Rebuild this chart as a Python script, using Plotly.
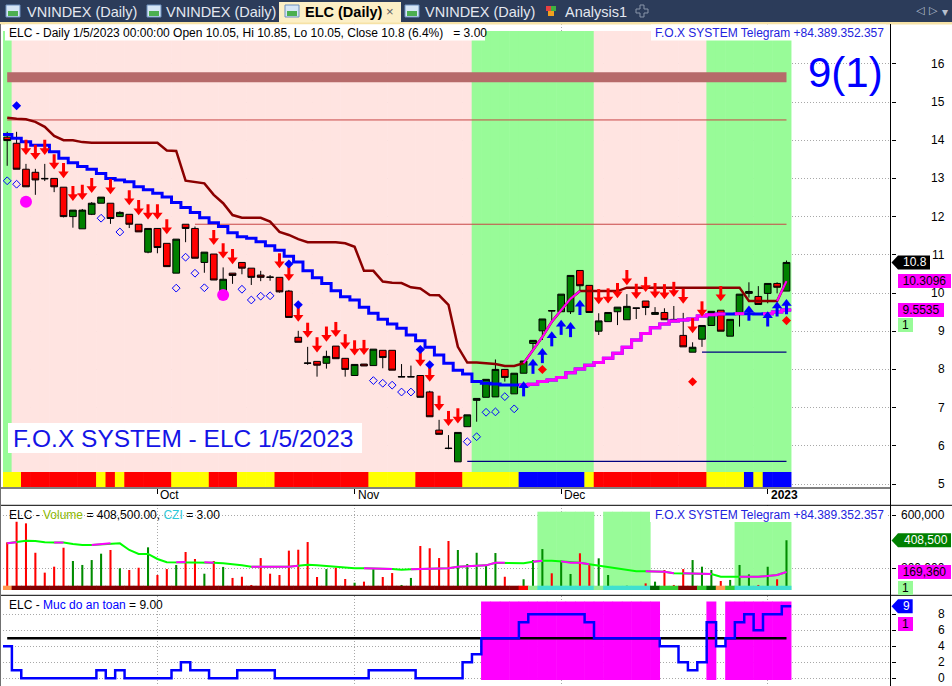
import plotly.graph_objects as go

W, H = 952, 686
FONT = "Liberation Sans"

# ------------------------------------------------------------------ data
dates = [
    "2022-09-09", "2022-09-12", "2022-09-13", "2022-09-14", "2022-09-15", "2022-09-16",
    "2022-09-19", "2022-09-20", "2022-09-21", "2022-09-22", "2022-09-23", "2022-09-26",
    "2022-09-27", "2022-09-28", "2022-09-29", "2022-09-30",
    "2022-10-03", "2022-10-04", "2022-10-05", "2022-10-06", "2022-10-07", "2022-10-10",
    "2022-10-11", "2022-10-12", "2022-10-13", "2022-10-14", "2022-10-17", "2022-10-18",
    "2022-10-19", "2022-10-20", "2022-10-21", "2022-10-24", "2022-10-25", "2022-10-26",
    "2022-10-27", "2022-10-28", "2022-10-31",
    "2022-11-01", "2022-11-02", "2022-11-03", "2022-11-04", "2022-11-07", "2022-11-08",
    "2022-11-09", "2022-11-10", "2022-11-11", "2022-11-14", "2022-11-15", "2022-11-16",
    "2022-11-17", "2022-11-18", "2022-11-21", "2022-11-22", "2022-11-23", "2022-11-24",
    "2022-11-25", "2022-11-28", "2022-11-29", "2022-11-30",
    "2022-12-01", "2022-12-02", "2022-12-05", "2022-12-06", "2022-12-07", "2022-12-08",
    "2022-12-09", "2022-12-12", "2022-12-13", "2022-12-14", "2022-12-15", "2022-12-16",
    "2022-12-19", "2022-12-20", "2022-12-21", "2022-12-22", "2022-12-23", "2022-12-26",
    "2022-12-27", "2022-12-28", "2022-12-29", "2022-12-30",
    "2023-01-03", "2023-01-04", "2023-01-05",
]
month_labels = ["Oct", "Nov", "Dec", "<b>2023</b>"]

opens = [14.08, 13.92, 13.24, 13.16, 13.00, 13.00, 12.77, 12.00, 11.68, 12.06,
         12.35, 12.35, 12.00, 12.06, 11.80, 11.07, 11.69, 11.30, 10.52, 11.80,
         11.69, 10.80, 11.02, 9.99, 10.52, 10.80, 10.65, 10.47, 10.42, 10.41,
         10.05, 8.84, 8.17, 8.21, 8.16, 8.61, 8.29, 7.84, 8.14, 8.10,
         8.50, 8.50, 7.80, 7.80, 7.84, 7.41, 6.41, 5.94, 5.58, 6.50,
         7.19, 7.27, 7.28, 8.00, 7.36, 7.90, 8.68, 9.01, 9.54, 9.51,
         9.51, 10.59, 10.20, 9.00, 9.25, 9.51, 9.30, 9.61, 9.79, 9.44,
         9.49, 9.31, 8.89, 8.45, 8.79, 9.15, 9.55, 8.87, 9.49, 9.99,
         9.91, 9.99, 10.25, 10.05]
highs = [14.22, 14.22, 13.38, 13.25, 13.38, 13.00, 12.77, 12.17, 12.20, 12.38,
         12.51, 12.35, 12.14, 12.06, 11.80, 11.69, 11.69, 11.30, 11.41, 11.80,
         11.74, 11.07, 11.02, 10.67, 10.52, 10.80, 10.65, 10.58, 10.47, 10.41,
         10.08, 9.01, 8.59, 8.21, 8.49, 8.61, 8.29, 8.13, 8.14, 8.53,
         8.50, 8.50, 8.14, 8.10, 7.84, 7.44, 6.68, 6.28, 6.35, 6.81,
         7.24, 7.74, 8.26, 8.00, 7.90, 8.22, 8.76, 9.32, 9.54, 9.97,
         10.46, 10.59, 10.20, 9.47, 9.49, 9.63, 9.97, 9.61, 9.79, 9.63,
         9.60, 9.66, 9.48, 8.71, 9.15, 9.52, 9.55, 9.31, 9.97, 10.28,
         10.18, 10.25, 10.28, 10.85]
lows = [13.33, 13.24, 12.78, 12.57, 12.93, 12.64, 11.98, 11.71, 11.68, 12.04,
        12.35, 11.81, 11.99, 11.70, 11.60, 11.04, 11.04, 10.69, 10.52, 11.33,
        10.91, 10.53, 10.34, 9.86, 10.24, 10.49, 10.21, 10.31, 10.32, 10.01,
        9.36, 8.71, 8.12, 7.81, 8.02, 8.28, 7.81, 7.84, 8.09, 8.10,
        8.03, 7.98, 7.80, 7.80, 7.27, 6.76, 6.30, 5.91, 5.58, 6.50,
        6.63, 7.27, 7.28, 7.68, 7.36, 7.90, 8.49, 8.77, 9.21, 9.51,
        9.45, 10.03, 9.49, 8.90, 9.25, 9.16, 9.30, 9.32, 9.42, 9.44,
        9.30, 9.25, 8.59, 8.45, 8.59, 9.15, 9.00, 8.87, 9.12, 9.88,
        9.70, 9.73, 9.99, 10.05]
closes = [13.99, 13.24, 12.78, 12.96, 12.99, 12.78, 12.00, 12.17, 12.17, 12.35,
          12.51, 11.95, 12.11, 11.80, 11.60, 11.69, 11.19, 10.69, 11.41, 11.69,
          10.91, 11.07, 10.34, 10.36, 10.46, 10.65, 10.41, 10.41, 10.41, 10.03,
          9.36, 8.71, 8.16, 8.11, 8.34, 8.28, 8.00, 8.13, 8.09, 8.53,
          8.31, 7.98, 7.81, 7.81, 7.27, 6.76, 6.30, 5.93, 6.35, 6.81,
          7.24, 7.74, 8.00, 7.79, 7.90, 8.22, 8.76, 9.32, 9.53, 9.97,
          10.46, 10.19, 9.49, 9.27, 9.49, 9.63, 9.65, 9.60, 9.62, 9.49,
          9.30, 9.25, 8.59, 8.58, 9.15, 9.52, 9.00, 9.31, 9.97, 10.04,
          9.70, 10.25, 10.15, 10.80]
prev_close = 10.15

volume = [394000, 549000, 537000, 315000, 165000, 210000, 353000, 253000, 223000, 260000,
          308000, 336000, 198000, 185000, 202000, 356000, 147000, 192000, 223000, 321000,
          268000, 157000, 253000, 208000, 125000, 134000, 72000, 275000, 157000, 147000,
          331000, 338000, 396000, 132000, 192000, 202000, 117000, 89000, 97000, 200000,
          132000, 162000, 72000, 125000, 366000, 349000, 275000, 404000, 336000, 230000,
          315000, 217000, 313000, 134000, 60000, 115000, 260000, 343000, 160000, 255000,
          155000, 311000, 223000, 273000, 147000, 59000, 66000, 51000, 84000, 97000,
          185000, 72000, 192000, 260000, 210000, 185000, 102000, 110000, 223000, 152000,
          72000, 210000, 115000, 408500]
vol_ma = [386000, 394000, 406000, 404000, 394000, 392000, 392000, 381000, 374000, 374000,
          379000, 386000, 386000, 336000, 306000, 306000, 268000, 243000, 243000, 245000,
          243000, 243000, 240000, 235000, 230000, 220000, 210000, 210000, 210000, 210000,
          210000, 217000, 225000, 220000, 215000, 210000, 202000, 198000, 198000, 198000,
          195000, 192000, 187000, 190000, 192000, 198000, 198000, 198000, 210000, 215000,
          217000, 220000, 240000, 240000, 235000, 235000, 247000, 255000, 255000, 250000,
          240000, 240000, 228000, 217000, 205000, 192000, 185000, 175000, 175000, 175000,
          172000, 160000, 160000, 160000, 160000, 155000, 134000, 134000, 134000, 134000,
          134000, 140000, 147000, 169360]

trail_upper = [14.59, 14.56, 14.55, 14.48, 14.35, 14.11, 14.00, 14.00, 13.95, 13.93,
               13.93, 13.93, 13.93, 13.93, 13.93, 13.93, 13.93, 13.73, 13.72, 12.94,
               12.91, 12.87, 12.57, 12.35, 12.04, 11.97, 11.97, 11.97, 11.87, 11.60,
               11.52, 11.41, 11.33, 11.33, 11.33, 11.33, 11.30, 11.21, 10.58, 10.58,
               10.30, 10.27, 10.26, 10.15, 10.12, 9.95, 9.94, 9.69, 8.59, 8.18,
               8.18, 8.17, 8.14, 8.09, 8.09, 8.16, 8.50, 8.85, 9.25, 9.55,
               9.85, 10.05, 10.05, 10.05, 10.05, 10.05, 10.14, 10.14, 10.14, 10.14,
               10.14, 10.14, 10.14, 10.14, 10.14, 10.14, 10.14, 10.14, 10.14, 9.79,
               9.79, 9.79, 9.79, 10.3096]
trail_lower = [14.15, 14.05, 13.96, 13.87, 13.87, 13.70, 13.53, 13.41, 13.31, 13.24,
               13.13, 13.00, 12.96, 12.91, 12.78, 12.70, 12.61, 12.51, 12.37, 12.24,
               12.11, 11.97, 11.84, 11.74, 11.58, 11.47, 11.43, 11.34, 11.24, 11.12,
               10.96, 10.81, 10.58, 10.40, 10.25, 10.06, 9.90, 9.82, 9.63, 9.47,
               9.31, 9.19, 9.08, 8.90, 8.75, 8.58, 8.38, 8.16, 7.98, 7.88,
               7.68, 7.64, 7.62, 7.59, 7.59, 7.59, 7.61, 7.68, 7.72, 7.79,
               7.91, 8.01, 8.11, 8.18, 8.29, 8.42, 8.58, 8.77, 8.94, 9.09,
               9.19, 9.27, 9.29, 9.32, 9.40, 9.43, 9.45, 9.45, 9.46, 9.46,
               9.45, 9.46, 9.50, 9.5535]
safety = [4, 1, 0, 0, 0, 0, 0, 0, 0, 0,
          1, 0, 1, 0, 0, 0, 0, 0, 1, 2,
          1, 1, 0, 0, 0, 1, 1, 1, 1, 0,
          0, 0, 0, 0, 0, 0, 0, 0, 0, 1,
          1, 1, 1, 1, 0, 0, 0, 0, 0, 2,
          3, 5, 5, 5, 5, 7, 8, 8, 8, 8,
          8, 8, 7, 5, 5, 5, 5, 5, 5, 5,
          4, 4, 2, 1, 2, 7, 4, 5, 7, 8,
          6, 8, 8, 9]
safety_threshold = 5

# per-bar state strings
bg_zone = "G" + "P" * 49 + "G" * 13 + "P" * 12 + "G" * 9
trend_ribbon = ("YY" + "R" * 8 + "Y" + "R" + "Y" + "R" * 5 + "Y" * 4 + "R" * 3 + "Y" * 4 +
                "R" * 10 + "Y" * 5 + "R" * 5 + "Y" * 6 + "B" * 7 + "Y" + "R" * 12 +
                "Y" * 4 + "B" + "Y" + "B" * 3)
flow_ribbon = ("O" + "D" * 54 + "R" + "L" + "T" * 6 + "L" + "T" * 5 + "K" + "G" * 2 +
               "D" * 2 + "G" + "K" + "O" + "G" + "T" * 6)

sell_bars = [2, 3, 4, 5, 6, 7, 8, 9, 11, 13, 14, 15, 16, 17, 22, 23, 24, 29, 30, 31, 32,
             33, 34, 35, 36, 37, 38, 44, 45, 46, 47, 48, 63, 64, 65, 66, 67, 68, 69, 70,
             71, 72, 73, 74, 76]
buy_bars = [55, 56, 57, 58, 59, 60, 61, 79, 81, 82, 83]
alert_bars = [1, 30, 31, 44, 45]
watch_bars = [0, 1, 10, 12, 18, 19, 20, 21, 25, 26, 27, 28, 39, 40, 41, 42, 43,
              49, 50, 51, 52, 53, 54]
exit_bars = [48, 57, 73, 83]
dot_bars = [2, 23]
dot_values = [12.39, 9.95]

upper_magenta_runs = [(55, 61), (82, 83)]
lower_magenta_runs = [(55, 76), (78, 78), (81, 83)]
ma_magenta_runs = [(0, 1), (5, 6), (9, 11), (18, 19), (21, 22), (26, 31), (38, 41),
                   (43, 53), (56, 57), (59, 62), (68, 71), (72, 75), (78, 83)]

band_level = 15.65
resistance = [(14.53, 0), (11.80, 20)]
support = [(8.45, 74), (5.59, 49)]
price_ticks = list(range(5, 17))
vol_ticks = [200000, 600000]
safety_ticks = [0, 2, 4, 6, 8]
zone_volume_top = 625000

# ------------------------------------------------------------------ geometry
n = len(dates)
xs = list(range(n))
month_idx = [i for i in range(1, n) if dates[i][5:7] != dates[i - 1][5:7]]

X_L, X_R = 3.0, 890.5
BAR0_PX, BAR_PX = 7.2, 9.389
x_range = [(X_L - BAR0_PX) / BAR_PX, (X_R - BAR0_PX) / BAR_PX]

PRICE_TOP, PRICE_BOT = 24, 488
PPU, P5_PX = 38.2, 484.0
price_range = [5 - (PRICE_BOT - P5_PX) / PPU, 5 + (P5_PX - PRICE_TOP) / PPU]

VOL_TOP, VOL_BOT = 505, 590
VPU, V0_PX = 53.0 / 400000, 594.5
vol_range = [(V0_PX - VOL_BOT) / VPU, (V0_PX - VOL_TOP) / VPU]

IND_TOP, IND_BOT = 596, 686
IPU, I0_PX = 8.0, 678.3
ind_range = [(I0_PX - IND_BOT) / IPU, (I0_PX - IND_TOP) / IPU]

FULL = 1.06  # full-slot bar width (slight overlap avoids seams)


def fx(px):
    return px / W


def fy(py):
    return 1 - py / H


def price_px(p):
    return P5_PX - (p - 5) * PPU


def px_price(py):
    return 5 + (P5_PX - py) / PPU


def vol_px(v):
    return V0_PX - v * VPU


def ind_px(v):
    return I0_PX - v * IPU


def off(px):
    return px / PPU


def step_xy(vals, a, b):
    x = [i - 0.5 for i in range(a, b + 1)] + [b + 0.5]
    y = list(vals[a:b + 1]) + [vals[b]]
    return x, y


def runs_xy(vals, runs, step=False):
    x, y = [], []
    for a, b in runs:
        if step:
            sx, sy = step_xy(vals, a, b)
        else:
            sx, sy = list(range(a, b + 1)), list(vals[a:b + 1])
        x += sx + [None]
        y += sy + [None]
    return x, y


traces = []
P = dict(xaxis="x", yaxis="y", hoverinfo="skip")
V = dict(xaxis="x2", yaxis="y2", hoverinfo="skip")
I = dict(xaxis="x3", yaxis="y3", hoverinfo="skip")

# ---------------- price pane
bg_col = {"G": "#98FB98", "P": "#FFE4E1"}
bg_base, bg_top = px_price(472), px_price(31)
traces.append(go.Bar(x=xs, y=[bg_top - bg_base] * n, base=[bg_base] * n, width=FULL,
                     marker=dict(color=[bg_col[c] for c in bg_zone], line=dict(width=0)), **P))
rib_col = {"R": "#FF0000", "Y": "#FFFF00", "B": "#0000FF"}
rb_base, rb_top = px_price(487), px_price(472)
traces.append(go.Bar(x=xs, y=[rb_top - rb_base] * n, base=[rb_base] * n, width=FULL,
                     marker=dict(color=[rib_col[c] for c in trend_ribbon], line=dict(width=0)), **P))
traces.append(go.Candlestick(
    x=xs, open=opens, high=highs, low=lows, close=closes, whiskerwidth=0,
    increasing=dict(line=dict(color="black", width=1), fillcolor="#008000"),
    decreasing=dict(line=dict(color="black", width=1), fillcolor="#FF0000"), **P))

traces.append(go.Scatter(x=[xs[0], xs[-1]], y=[band_level] * 2, mode="lines",
                         line=dict(color="#B66A6A", width=10), **P))
for lvl, start in resistance:
    traces.append(go.Scatter(x=[start, xs[-1]], y=[lvl] * 2, mode="lines",
                             line=dict(color="#C84646", width=1), **P))
for lvl, start in support:
    traces.append(go.Scatter(x=[start, xs[-1]], y=[lvl] * 2, mode="lines",
                             line=dict(color="#000080", width=1.2), **P))

traces.append(go.Scatter(x=xs, y=trail_upper, mode="lines",
                         line=dict(color="#8B0000", width=2.5), **P))
ux, uy = runs_xy(trail_upper, upper_magenta_runs)
traces.append(go.Scatter(x=ux, y=uy, mode="lines", line=dict(color="#FF00FF", width=2), **P))

lx, ly = step_xy(trail_lower, 0, n - 1)
traces.append(go.Scatter(x=lx, y=ly, mode="lines", line=dict(color="#0000FF", width=3, shape="hv"), **P))
mx, my = runs_xy(trail_lower, lower_magenta_runs, step=True)
traces.append(go.Scatter(x=mx, y=my, mode="lines", line=dict(color="#FF00FF", width=3, shape="hv"), **P))

# markers
traces.append(go.Scatter(x=sell_bars, y=[highs[i] + off(19.25) for i in sell_bars], mode="markers",
                         marker=dict(symbol="line-ns", size=7, line=dict(color="#FF0000", width=3)), **P))
traces.append(go.Scatter(x=sell_bars, y=[highs[i] + off(13.5) for i in sell_bars], mode="markers",
                         marker=dict(symbol="triangle-down", size=9, color="#FF0000", line=dict(width=0)), **P))
traces.append(go.Scatter(x=buy_bars, y=[lows[i] - off(18.25) for i in buy_bars], mode="markers",
                         marker=dict(symbol="line-ns", size=7, line=dict(color="#0000FF", width=3)), **P))
traces.append(go.Scatter(x=buy_bars, y=[lows[i] - off(12.5) for i in buy_bars], mode="markers",
                         marker=dict(symbol="triangle-up", size=9, color="#0000FF", line=dict(width=0)), **P))
traces.append(go.Scatter(x=alert_bars, y=[highs[i] + off(26) for i in alert_bars], mode="markers",
                         marker=dict(symbol="diamond", size=7, color="#0000FF"), **P))
traces.append(go.Scatter(x=watch_bars, y=[lows[i] - off(15) for i in watch_bars], mode="markers",
                         marker=dict(symbol="diamond-open", size=6, color="#0000FF",
                                     line=dict(color="#0000FF", width=1)), **P))
traces.append(go.Scatter(x=exit_bars, y=[lows[i] - off(29.5) for i in exit_bars], mode="markers",
                         cliponaxis=False, marker=dict(symbol="diamond", size=7, color="#FF0000"), **P))
traces.append(go.Scatter(x=dot_bars, y=dot_values, mode="markers",
                         marker=dict(symbol="circle", size=12, color="#FF00FF"), **P))

# ---------------- volume pane
zone_bars = [i for i, c in enumerate(flow_ribbon) if c == "T"]
traces.append(go.Bar(x=zone_bars, y=[zone_volume_top - vol_range[0]] * len(zone_bars),
                     base=[vol_range[0]] * len(zone_bars), width=FULL,
                     marker=dict(color="#98FB98", line=dict(width=0)), **V))
traces.append(go.Bar(x=xs, y=volume, width=0.22,
                     marker=dict(color=["#008C00" if c >= o else "#FF0000" for o, c in zip(opens, closes)],
                                 line=dict(width=0)), **V))
flow_col = {"O": "#FF9A50", "D": "#800000", "R": "#FF0000", "L": "#90EE90", "T": "#40E0D0",
            "K": "#006400", "G": "#32CD32"}
fr_top = (V0_PX - 585.7) / VPU
traces.append(go.Bar(x=xs, y=[fr_top - vol_range[0]] * n, base=[vol_range[0]] * n, width=FULL,
                     marker=dict(color=[flow_col[c] for c in flow_ribbon], line=dict(width=0)), **V))
traces.append(go.Scatter(x=xs, y=vol_ma, mode="lines", line=dict(color="#00FF00", width=2), **V))
vx, vy = runs_xy(vol_ma, ma_magenta_runs)
traces.append(go.Scatter(x=vx, y=vy, mode="lines", line=dict(color="#FF00FF", width=2), **V))

# ---------------- safety pane
safe_bars = [i for i, v in enumerate(safety) if v >= safety_threshold]
traces.append(go.Bar(x=safe_bars, y=[9.8] * len(safe_bars), base=[-0.2] * len(safe_bars), width=FULL,
                     marker=dict(color="#FF00FF", line=dict(width=0)), **I))
traces.append(go.Scatter(x=xs, y=[safety_threshold] * n, mode="lines",
                         line=dict(color="black", width=2.5), **I))
sx, sy = step_xy(safety, 0, n - 1)
traces.append(go.Scatter(x=sx, y=sy, mode="lines", line=dict(color="#0000FF", width=2.5, shape="hv"), **I))

fig = go.Figure(traces)

# ------------------------------------------------------------------ axes
grid = dict(showgrid=True, gridcolor="#A8A8A8", griddash="1px,2px", gridwidth=1, zeroline=False)
xcommon = dict(domain=[fx(X_L), fx(X_R)], range=x_range, tickvals=month_idx, showticklabels=False,
               fixedrange=True, **grid)
fig.update_layout(
    xaxis=dict(anchor="y", ticks="outside", ticklen=5, tickcolor="black",
               rangeslider=dict(visible=False), **xcommon),
    xaxis2=dict(anchor="y2", matches="x", ticks="", **xcommon),
    xaxis3=dict(anchor="y3", matches="x", ticks="", **xcommon),
    yaxis=dict(anchor="x", side="right", domain=[fy(PRICE_BOT), fy(PRICE_TOP)], range=price_range,
               tickvals=price_ticks, showticklabels=False, ticks="outside", ticklen=4,
               tickcolor="black", **grid),
    yaxis2=dict(anchor="x2", side="right", domain=[fy(VOL_BOT), fy(VOL_TOP)], range=vol_range,
                tickvals=vol_ticks, showticklabels=False, ticks="outside", ticklen=4,
                tickcolor="black", **grid),
    yaxis3=dict(anchor="x3", side="right", domain=[fy(IND_BOT), fy(IND_TOP)], range=ind_range,
                tickvals=safety_ticks, showticklabels=False, ticks="outside", ticklen=4,
                tickcolor="black", **grid),
)

# ------------------------------------------------------------------ decorations
shapes, annots = [], []


def rect(x0, y0, x1, y1, fill, line=None, layer="above"):
    shapes.append(dict(type="rect", xref="paper", yref="paper", x0=fx(x0), x1=fx(x1),
                       y0=fy(y1), y1=fy(y0), fillcolor=fill, layer=layer,
                       line=dict(width=0) if line is None else dict(color=line, width=1)))


def line(x0, y0, x1, y1, color="black", width=1):
    shapes.append(dict(type="line", xref="paper", yref="paper", x0=fx(x0), x1=fx(x1),
                       y0=fy(y0), y1=fy(y1), line=dict(color=color, width=width)))


def text(x, y, s, size=12, color="black", xanchor="left", family=FONT):
    annots.append(dict(xref="paper", yref="paper", x=fx(x), y=fy(y), text=s, showarrow=False,
                       xanchor=xanchor, yanchor="middle", font=dict(size=size, color=color, family=family)))


def box(x0, x1, cy, fill, label, color):
    annots.append(dict(xref="paper", yref="paper", x=fx(x0), y=fy(cy), text=label, showarrow=False,
                       xanchor="left", yanchor="middle", width=x1 - x0, height=14, align="center",
                       bgcolor=fill, borderpad=0, borderwidth=0,
                       font=dict(size=12, color=color, family=FONT)))


def arrow_tag(cy, x_end, fill, label, color):
    pts = [(891.5, cy), (898, cy - 7), (x_end, cy - 7), (x_end, cy + 7), (898, cy + 7)]
    path = "M " + " L ".join(f"{fx(a):.5f},{fy(b):.5f}" for a, b in pts) + " Z"
    shapes.append(dict(type="path", xref="paper", yref="paper", path=path, fillcolor=fill,
                       line=dict(width=0), layer="above"))
    text((898 + x_end) / 2 + 1, cy, label, 12, color, "center")


# tab bar
rect(0, 0, W, 22, "#2C3C5A")
rect(0, 22, W, 24.5, "#F6E2A6")
rect(279, 2, 401, 22.5, "#FCEFC6")
for ix in (6, 147, 285, 405):
    rect(ix, 5, ix + 14, 17, "#D6E6F6", "#6D90BF")
    rect(ix + 2, 11, ix + 12, 16, "#4CAF50")
text(25, 11.5, "VNINDEX (Daily)", 14.5, "#E4E8F0")
text(164, 11.5, "VNINDEX (Daily)", 14.5, "#E4E8F0")
text(303, 11.5, "<b>ELC (Daily)</b>", 14.5, "#000000")
text(390, 11.5, "×", 13, "#606060", "center")
text(423, 11.5, "VNINDEX (Daily)", 14.5, "#E4E8F0")
rect(546, 6, 551, 11, "#E84040")
rect(551, 6, 556, 11, "#40B040")
rect(548, 11, 554, 16, "#F0A020")
text(563, 11.5, "Analysis1", 14.5, "#E4E8F0")
plus = [(640, 5), (644, 5), (644, 9), (648, 9), (648, 13), (644, 13), (644, 17), (640, 17),
        (640, 13), (636, 13), (636, 9), (640, 9)]
shapes.append(dict(type="path", xref="paper", yref="paper",
                   path="M " + " L ".join(f"{fx(a):.5f},{fy(b):.5f}" for a, b in plus) + " Z",
                   line=dict(color="#8A96AA", width=1), fillcolor="rgba(0,0,0,0)"))
text(920, 11, "◁", 11, "#B8C0D0", "center", "DejaVu Sans")
text(933, 11, "▷", 11, "#B8C0D0", "center", "DejaVu Sans")
text(945, 12, "▾", 12, "#B8C0D0", "center", "DejaVu Sans")

# pane borders
line(0, 488, X_R, 488)
line(0, 505.3, W, 505.3)
line(0, 595.3, W, 595.3)
line(X_R, 24, X_R, H)
line(0.5, 24, 0.5, H, "#707070", 1)

# title boxes
chg = (closes[-1] / prev_close - 1) * 100
title = (f"ELC - Daily 1/5/2023 00:00:00 Open {opens[-1]:g}, Hi {highs[-1]:g}, "
         f"Lo {lows[-1]:g}, Close {closes[-1]:g} ({chg:.1f}%)\u00a0\u00a0\u00a0= 3.00")
rect(5, 24.5, 485, 40.5, "white")
text(7, 33, title, 12)
rect(651, 24.5, 886, 40.5, "white")
text(653, 33, "F.O.X SYSTEM Telegram +84.389.352.357", 12, "#2222DD")
text(845, 72, "9(1)", 42, "#0000FF", "center")
rect(8, 423, 362, 453, "white")
text(11, 438.5, "F.O.X SYSTEM - ELC 1/5/2023", 24.5, "#1414E6")

# month labels
for i, lab in zip(month_idx, month_labels):
    annots.append(dict(xref="x", yref="paper", x=i, y=fy(495), text=lab, showarrow=False,
                       xanchor="left", yanchor="middle", xshift=1, font=dict(size=12, color="black")))

# volume / safety titles
rect(650, 506.5, 886, 522, "white")
text(7, 515, f"ELC - <span style='color:#8CB800'>Volume</span> = {volume[-1]:,.2f}, "
             f"<span style='color:#30C8D8'>CZI</span> = 3.00", 12)
text(653, 515, "F.O.X SYSTEM Telegram +84.389.352.357", 12, "#2222DD")
text(7, 605, f"ELC - <span style='color:#0000FF'>Muc do an toan</span> = {safety[-1]:.2f}", 12)

# right-hand tick labels
for t in price_ticks:
    text(947, price_px(t), str(t), 12, "black", "right")
for t in vol_ticks:
    text(947, vol_px(t), f"{t:,}", 12, "black", "right")
for t in safety_ticks:
    text(947, ind_px(t), str(t), 12, "black", "right")

# value tags (drawn after the tick labels so they cover them, as in the original)
arrow_tag(price_px(closes[-1]), 930, "#000000", f"{closes[-1]:g}", "white")
box(898, 951, price_px(trail_upper[-1]), "#FF00FF", f"{trail_upper[-1]:g}", "black")
box(898, 944, price_px(trail_lower[-1]), "#FF00FF", f"{trail_lower[-1]:g}", "black")
box(898, 913, price_px(trail_lower[-1]) + 15.4, "#98FB98", "1", "black")
arrow_tag(vol_px(volume[-1]), 951, "#008000", f"{volume[-1]:,}", "white")
box(898, 951, vol_px(vol_ma[-1]), "#FF00FF", f"{vol_ma[-1]:,}", "black")
box(898, 913, vol_px(vol_ma[-1]) + 15.7, "#98FB98", "1", "black")
arrow_tag(ind_px(safety[-1]), 912.7, "#0000FF", str(safety[-1]), "white")
box(898, 913, ind_px(safety[-1]) + 17.7, "#FF00FF", "1", "black")

fig.update_layout(
    width=W, height=H, margin=dict(l=0, r=0, t=0, b=0, pad=0),
    paper_bgcolor="white", plot_bgcolor="white", showlegend=False,
    barmode="overlay", boxgap=0.15, boxgroupgap=0.16, hovermode=False,
    font=dict(family=FONT, size=12, color="black"),
    shapes=shapes, annotations=annots,
)

fig.write_html("out.html", config={"displayModeBar": False, "staticPlot": True},
               post_script="document.body.style.margin='0';document.body.style.overflow='hidden';")
